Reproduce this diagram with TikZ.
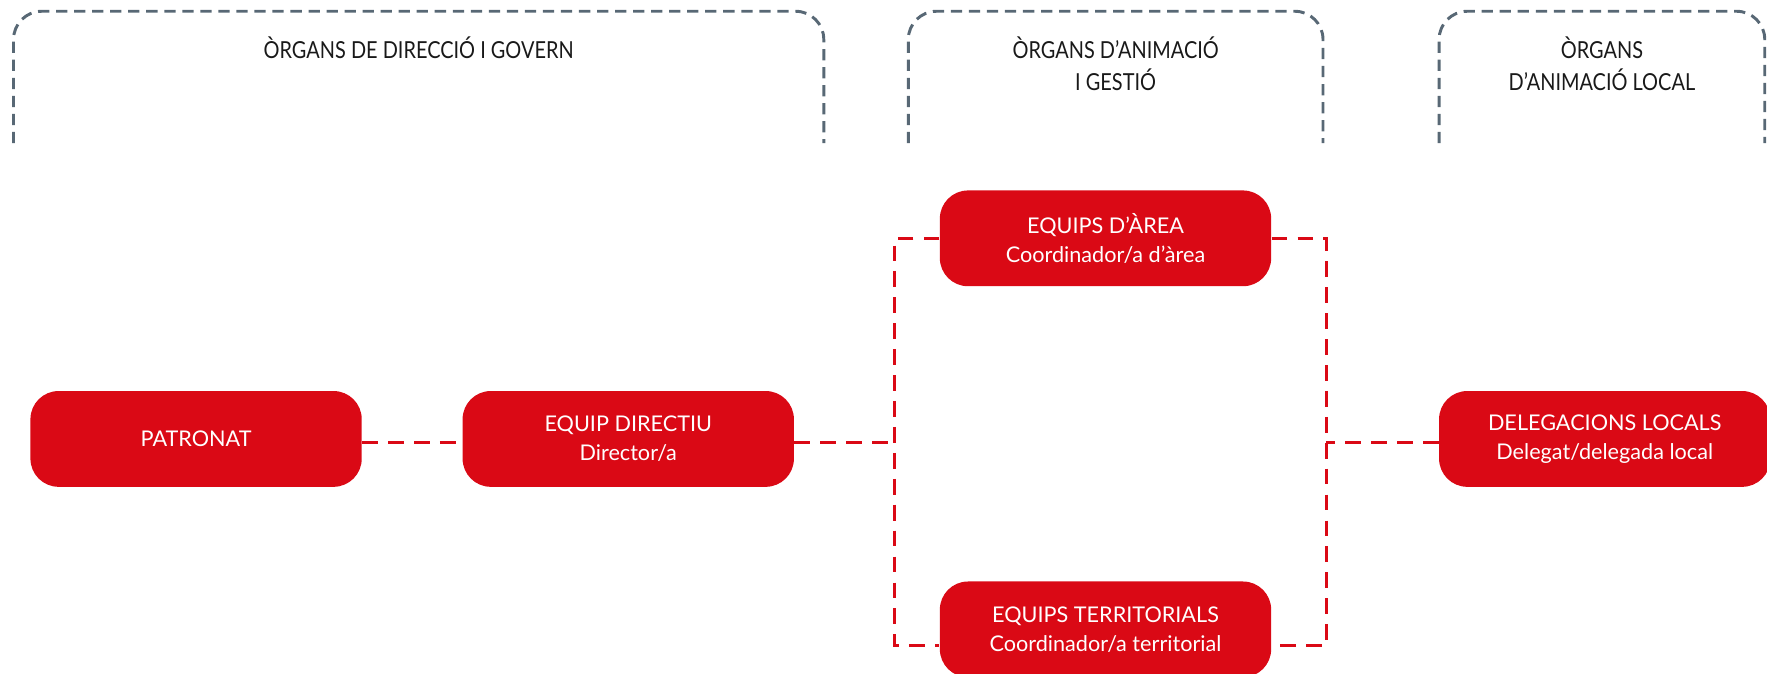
\documentclass[tikz,border=0pt]{standalone}
\usepackage{fontspec}
\setmainfont{Lato}
\newfontfamily\headfont[FakeStretch=0.85]{Lato}
\definecolor{orgred}{RGB}{218,9,21}
\definecolor{orggray}{RGB}{88,104,117}

\begin{document}
\begin{tikzpicture}[x=0.5pt, y=-0.5pt,
    organ/.style={fill=orgred, rounded corners=12.5pt, minimum width=147pt,
        minimum height=42.5pt, inner sep=0pt, text=white, align=center,
        font=\fontsize{9.6}{13}\selectfont},
    link/.style={orgred, line width=1.4pt, dash pattern=on 7pt off 4.5pt},
    bracket/.style={orggray, line width=1.3pt, dash pattern=on 5pt off 3pt,
        rounded corners=12.5pt},
    head/.style={text=black!90, align=center, font=\headfont\fontsize{10.4}{14.5}\selectfont}]

    \useasboundingbox (0,0) rectangle (1568,598);

    \draw[bracket] (12,127) -- (12,10) -- (731,10) -- (731,127);
    \draw[bracket] (806,127) -- (806,10) -- (1174,10) -- (1174,127);
    \draw[bracket] (1277,127) -- (1277,10) -- (1566,10) -- (1566,127);

    \node[head] (govern) at (371.5,42) {ÒRGANS DE DIRECCIÓ I GOVERN};
    \node[head] (gestio) at (990,56.5) {ÒRGANS D’ANIMACIÓ\\I GESTIÓ};
    \node[head] (local) at (1421.5,56.5) {ÒRGANS\\D’ANIMACIÓ LOCAL};

    \node[organ] (patronat) at (174,389.5) {PATRONAT};
    \node[organ] (directiu) at (557.5,389.5) {EQUIP DIRECTIU\\Director/a};
    \node[organ] (area) at (981,211.5) {EQUIPS D’ÀREA\\Coordinador/a d’àrea};
    \node[organ] (territ) at (981,558.5) {EQUIPS TERRITORIALS\\Coordinador/a territorial};
    \node[organ] (delegacions) at (1424,389.5) {DELEGACIONS LOCALS\\Delegat/delegada local};

    \coordinate (lb) at (794,573);
    \coordinate (rb) at (1177,573);

    \draw[link] ([yshift=-1.5pt]patronat.east) -- ([yshift=-1.5pt]directiu.west);
    \draw[link] ([yshift=-1.5pt]directiu.east) -- ([yshift=-1.5pt]directiu.east -| lb);
    \draw[link] (area.west) -| (lb) -- (lb -| territ.west);
    \draw[link] (area.east) -| (rb) -- (rb -| territ.east);
    \draw[link] ([yshift=-1.5pt]delegacions.west) -- ([yshift=-1.5pt]delegacions.west -| rb);
\end{tikzpicture}
\end{document}
